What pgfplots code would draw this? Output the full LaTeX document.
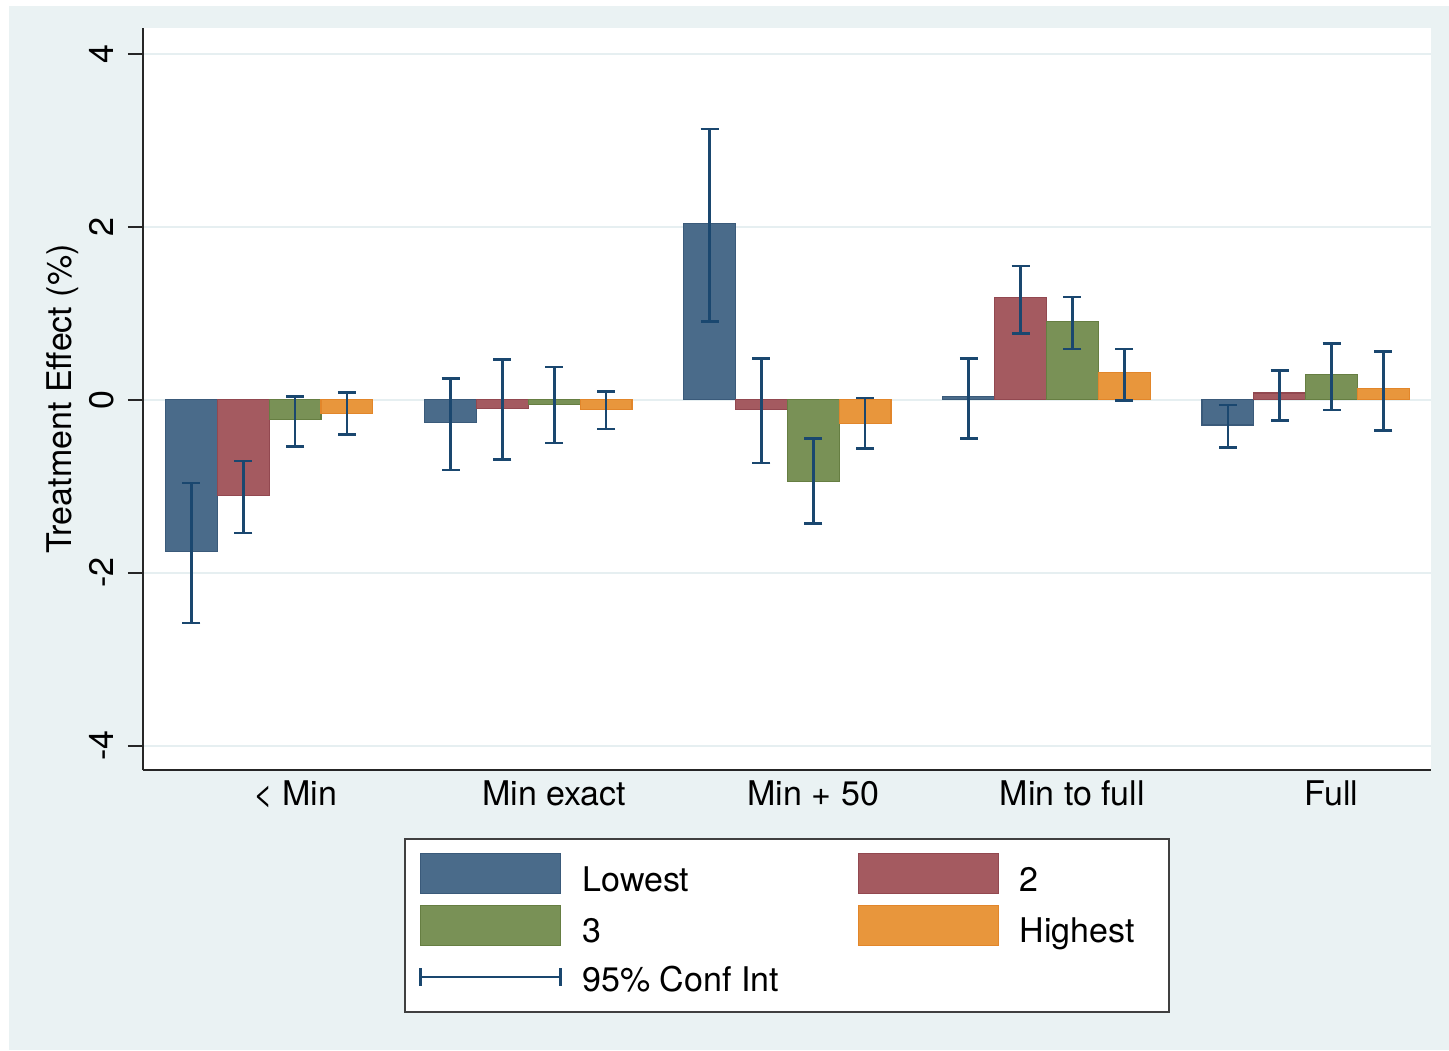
\documentclass[border=0pt]{standalone}
\usepackage{pgfplots}
\pgfplotsset{compat=1.18}
\usepackage{pgfplotstable}
\usepackage{fontspec}
\setmainfont{TeX Gyre Heros}
\definecolor{bgc}{RGB}{234,242,243}
\definecolor{gridc}{RGB}{230,239,241}
\definecolor{navyc}{RGB}{26,71,111}
\definecolor{cA}{RGB}{74,107,138}
\definecolor{eA}{RGB}{58,90,122}
\definecolor{cB}{RGB}{164,90,96}
\definecolor{eB}{RGB}{146,72,80}
\definecolor{cC}{RGB}{121,145,86}
\definecolor{eC}{RGB}{102,126,66}
\definecolor{cD}{RGB}{232,150,60}
\definecolor{eD}{RGB}{226,134,42}

\pgfplotstableread{
x y hi lo
0 -1.75 -0.96 -2.58
1 -0.26 0.25 -0.81
2 2.04 3.13 0.905
3 0.04 0.48 -0.45
4 -0.29 -0.06 -0.55
}\tA
\pgfplotstableread{
x y hi lo
0 -1.11 -0.705 -1.54
1 -0.10 0.47 -0.69
2 -0.11 0.48 -0.73
3 1.18 1.55 0.77
4 0.08 0.34 -0.24
}\tB
\pgfplotstableread{
x y hi lo
0 -0.23 0.04 -0.54
1 -0.05 0.38 -0.50
2 -0.945 -0.45 -1.43
3 0.91 1.19 0.59
4 0.29 0.65 -0.115
}\tC
\pgfplotstableread{
x y hi lo
0 -0.155 0.085 -0.40
1 -0.11 0.10 -0.335
2 -0.27 0.02 -0.56
3 0.32 0.59 -0.01
4 0.13 0.56 -0.355
}\tD

\begin{document}
\begin{tikzpicture}
\fill[white] (0,0) rectangle (724.5pt,525pt);
\fill[bgc] (4.5pt,0) rectangle (724.5pt,522pt);
\path[use as bounding box] (0,0) rectangle (724.5pt,525pt);
\begin{axis}[
  at={(71.5pt,140pt)}, anchor=south west,
  scale only axis, width=644pt, height=371pt,
  xmin=-0.487, xmax=4.484, ymin=-4.28, ymax=4.30,
  axis background/.style={fill=white},
  axis x line*=bottom, axis y line*=left,
  axis line style={line width=1pt, black!85},
  font=\fontsize{17}{20}\selectfont,
  xtick={0.1,1.1,2.1,3.1,4.1},
  xticklabels={< Min, Min exact, Min + 50, Min to full, Full},
  x tick style={draw=none},
  xticklabel style={anchor=base, yshift=-10pt},
  ytick={-4,-2,0,2,4},
  yticklabels={-4,-2,0,2,4},
  tick align=outside,
  major tick length=7.5pt,
  y tick style={line width=1pt, black!85},
  yticklabel style={rotate=90, anchor=south, inner ysep=6.8pt},
  ymajorgrids, grid style={gridc, line width=1pt},
  ylabel={Treatment Effect (\%)},
  ylabel style={at={(axis description cs:-0.062,0.5)}, anchor=center},
  ybar, bar width=0.2,
  error bars/error bar style={navyc, line width=1.3pt},
  error bars/error mark options={navyc, line width=1.3pt, mark size=4.5pt, rotate=90},
  legend columns=2,
  legend cell align=left,
  legend style={at={(0.5,0)}, anchor=north, yshift=-34pt, draw=black!75, line width=1pt,
    fill=white, font=\fontsize{17}{20}\selectfont, row sep=3pt,
    inner xsep=7pt, inner ysep=7pt},
  bar leg/.style={legend image code/.code={\draw[##1, line width=0.6pt] (0pt,-6.5pt) rectangle (70pt,13.5pt);}},
]
\addplot[bar shift=-0.3, fill=cA, draw=eA, line width=0.6pt, bar leg,
  error bars/.cd, y dir=both, y explicit]
  table[x=x, y=y, y error plus expr=\thisrow{hi}-\thisrow{y}, y error minus expr=\thisrow{y}-\thisrow{lo}] {\tA};
\addlegendentry{\hspace*{8.5pt}\makebox[135.5pt][l]{Lowest}}
\addplot[bar shift=-0.1, fill=cB, draw=eB, line width=0.6pt, bar leg,
  error bars/.cd, y dir=both, y explicit]
  table[x=x, y=y, y error plus expr=\thisrow{hi}-\thisrow{y}, y error minus expr=\thisrow{y}-\thisrow{lo}] {\tB};
\addlegendentry{\hspace*{8.5pt}\makebox[65.6pt][l]{2}}
\addplot[bar shift=0.1, fill=cC, draw=eC, line width=0.6pt, bar leg,
  error bars/.cd, y dir=both, y explicit]
  table[x=x, y=y, y error plus expr=\thisrow{hi}-\thisrow{y}, y error minus expr=\thisrow{y}-\thisrow{lo}] {\tC};
\addlegendentry{\hspace*{8.5pt}\makebox[135.5pt][l]{3}}
\addplot[bar shift=0.3, fill=cD, draw=eD, line width=0.6pt, bar leg,
  error bars/.cd, y dir=both, y explicit]
  table[x=x, y=y, y error plus expr=\thisrow{hi}-\thisrow{y}, y error minus expr=\thisrow{y}-\thisrow{lo}] {\tD};
\addlegendentry{\hspace*{8.5pt}\makebox[65.6pt][l]{Highest}}
\addlegendimage{legend image code/.code={
  \path[draw=none, fill=none] (0pt,-6.5pt) -- (0pt,12pt);
  \draw[navyc, line width=1.2pt] (0pt,1.5pt) -- (70pt,1.5pt);
  \draw[navyc, line width=1.2pt] (0pt,-3pt) -- (0pt,6pt);
  \draw[navyc, line width=1.2pt] (70pt,-3pt) -- (70pt,6pt);}}
\addlegendentry{\hspace*{8.5pt}95\% Conf Int}
\end{axis}
\end{tikzpicture}
\end{document}
